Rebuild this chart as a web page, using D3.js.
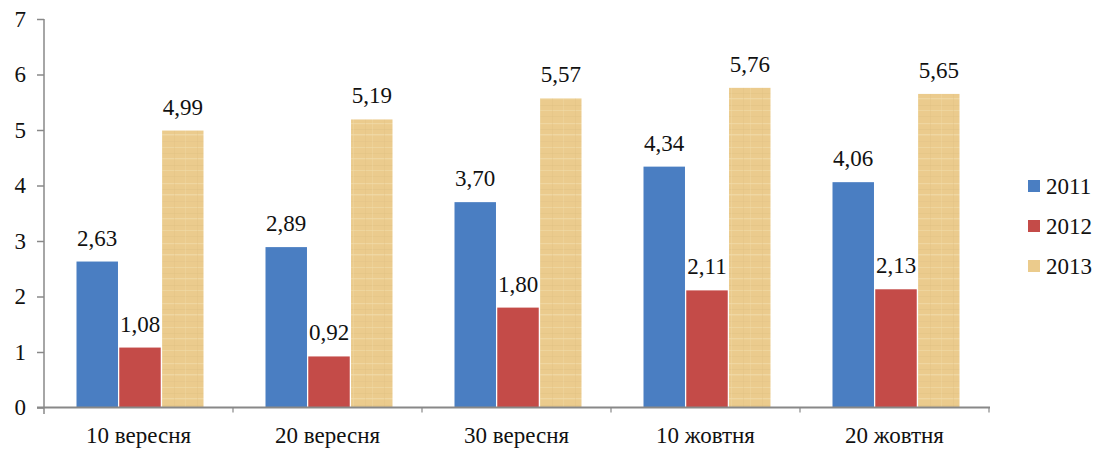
<!DOCTYPE html>
<html><head><meta charset="utf-8">
<script src="https://cdn.jsdelivr.net/npm/d3@7"></script>
<style>body{margin:0;background:#fff}svg{display:block}svg text{font-family:"Liberation Serif","Times New Roman",serif}</style>
</head><body>
<svg id="c" width="1102" height="452"></svg>
<script>
const categories = ["10 вересня","20 вересня","30 вересня","10 жовтня","20 жовтня"];
const series = ["2011","2012","2013"];
const values2011 = [2.63, 2.89, 3.70, 4.34, 4.06];
const values2012 = [1.08, 0.92, 1.80, 2.11, 2.13];
const values2013 = [4.99, 5.19, 5.57, 5.76, 5.65];
const yTicks = [0,1,2,3,4,5,6,7];

const seriesValues = {"2011": values2011, "2012": values2012, "2013": values2013};
const colors = {"2011": "#4A7EC2", "2012": "#C44B48", "2013": "url(#papyrus)"};
const legendColors = {"2011": "#4A7EC2", "2012": "#C44B48", "2013": "#EBCB8C"};

const svg = d3.select("#c");
const defs = svg.append("defs");
const pat = defs.append("pattern").attr("id","papyrus").attr("patternUnits","userSpaceOnUse")
  .attr("width",42).attr("height",60);
pat.append("rect").attr("width",42).attr("height",60).attr("fill","#EBCB8D");
const streaks = [[3,"#F1DAA8",1.2],[9,"#E2C285",0.8],[14,"#F2DCAC",1.5],[21,"#E3C387",0.7],[27,"#F0D9A6",1],[33,"#E0BF80",0.6],[38,"#F1DBAA",1.3],[45,"#E2C284",0.8],[50,"#F0D9A6",1],[56,"#E0C082",0.6]];
streaks.forEach(s => pat.append("rect").attr("x",0).attr("y",s[0]).attr("width",42).attr("height",s[2]).attr("fill",s[1]).attr("opacity",0.7));
[[6,"#E0BF80"],[17,"#F2DCAA"],[29,"#E0BF80"],[36,"#F2DCAA"]].forEach(v => pat.append("rect").attr("x",v[0]).attr("y",0).attr("width",0.8).attr("height",60).attr("fill",v[1]).attr("opacity",0.4));

const y = d3.scaleLinear().domain([0,7]).range([407.5,19]);
const x0 = d3.scaleBand().domain(categories).range([44,989]).padding(0);
const x1 = d3.scaleBand().domain(series).range([32.5, 32.5+127]).paddingInner(0.03).paddingOuter(0);

const g = svg.append("g");
categories.forEach((c,i) => {
  series.forEach(s => {
    const v = seriesValues[s][i];
    g.append("rect")
      .attr("x", x0(c)+x1(s))
      .attr("y", y(v))
      .attr("width", x1.bandwidth())
      .attr("height", y(0)-y(v))
      .attr("fill", colors[s]);
    g.append("text")
      .attr("x", x0(c)+x1(s)+x1.bandwidth()/2)
      .attr("y", y(v)-16)
      .attr("text-anchor","middle")
      .attr("font-size",23).attr("fill","#111")
      .text(v.toFixed(2).replace(".",","));
  });
});

const ya = svg.append("g").attr("transform","translate(44,0)")
  .call(d3.axisLeft(y).tickValues(yTicks).tickSize(7).tickPadding(11).tickFormat(d=>d));
ya.attr("font-family",null);
ya.select(".domain").attr("d","M0,19V414").attr("stroke","#888").attr("stroke-width",1.5);
ya.selectAll(".tick line").attr("stroke","#888").attr("stroke-width",1.5);
ya.selectAll("text").attr("font-size",23).attr("fill","#111");

const xa = svg.append("g").attr("transform","translate(0,407.5)");
xa.append("line").attr("x1",37).attr("x2",990).attr("y1",0).attr("y2",0).attr("stroke","#888").attr("stroke-width",2);
categories.forEach(c => {
  xa.append("line").attr("x1",x0(c)+x0.bandwidth()).attr("x2",x0(c)+x0.bandwidth())
    .attr("y1",0).attr("y2",5).attr("stroke","#888").attr("stroke-width",1.2);
  xa.append("text").attr("x",x0(c)+x0.bandwidth()/2).attr("y",35.5)
    .attr("text-anchor","middle").attr("font-size",23).attr("fill","#111")
    .text(c);
});

const lg = svg.append("g");
series.forEach((s,i) => {
  const cy = 186 + i*40;
  lg.append("rect").attr("x",1028).attr("y",cy-6).attr("width",12).attr("height",12).attr("fill",legendColors[s]);
  lg.append("text").attr("x",1046).attr("y",cy+8).attr("font-size",23).attr("fill","#111").text(s);
});
</script>
</body></html>
